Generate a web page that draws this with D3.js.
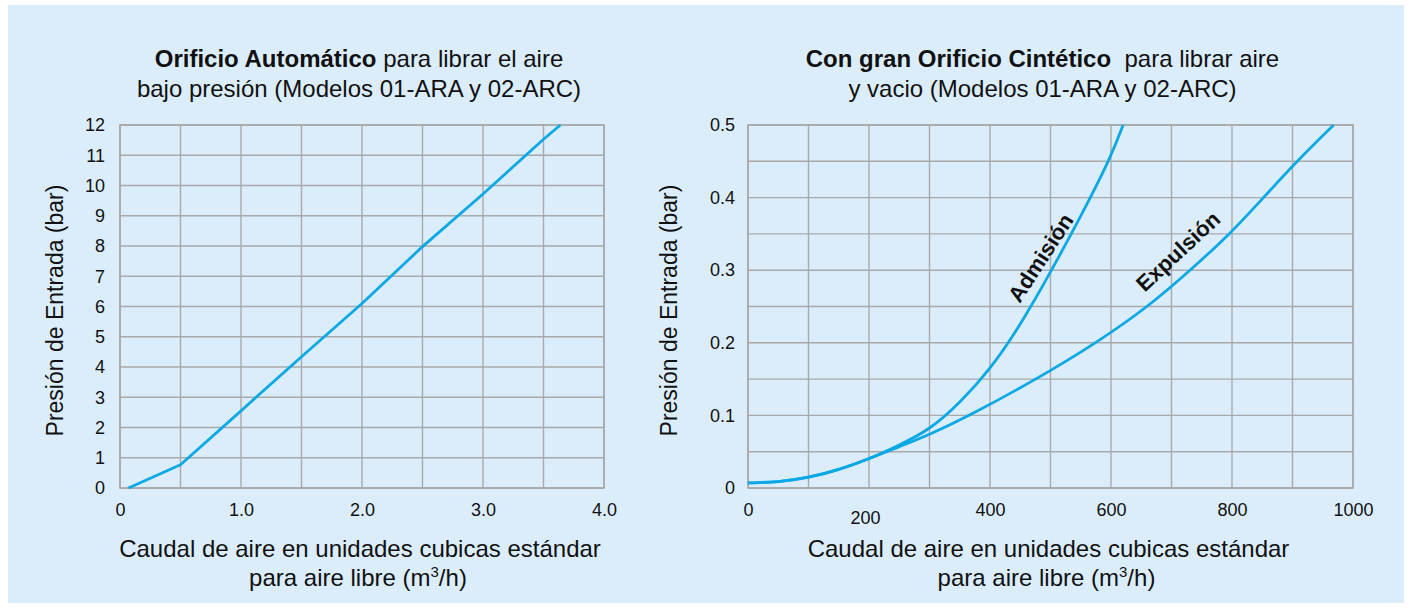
<!DOCTYPE html>
<html>
<head>
<meta charset="utf-8">
<script src="https://cdn.jsdelivr.net/npm/d3@7"></script>
<style>
html,body{margin:0;padding:0;background:#ffffff;}
svg{display:block;}
text{font-family:"Liberation Sans", Arial, Helvetica, sans-serif;fill:#111;}
</style>
</head>
<body>
<svg id="chart" width="1410" height="608"></svg>
<script>
// ---------- DATA ----------
// Left chart: Orificio Automático
const leftFlow     = [0.07, 0.5, 1.0, 1.5, 2.0, 2.5, 3.0, 3.5, 3.64];
const leftPressure = [0, 0.77, 2.55, 4.34, 6.1, 7.98, 9.72, 11.53, 12];
const leftXTicks = [0, 1, 2, 3, 4];
const leftXTickLabels = ["0", "1.0", "2.0", "3.0", "4.0"];
const leftYTicks = [0,1,2,3,4,5,6,7,8,9,10,11,12];

// Right chart: Con gran Orificio Cintético
const admisionFlow     = [0, 50, 100, 150, 200, 250, 300, 350, 400, 450, 500, 550, 600, 620];
const admisionPressure = [0.007, 0.008, 0.014, 0.025, 0.04, 0.059, 0.08, 0.117, 0.163, 0.224, 0.297, 0.374, 0.456, 0.5];
const expulsionFlow     = [0, 50, 100, 150, 200, 250, 300, 367, 477, 576, 662, 731, 797, 852, 907, 968];
const expulsionPressure = [0.007, 0.008, 0.014, 0.025, 0.04, 0.057, 0.0734, 0.1, 0.15, 0.2, 0.25, 0.3, 0.35, 0.4, 0.45, 0.5];
const rightXTicks = [0, 200, 400, 600, 800, 1000];
const rightXTickLabels = ["0", "200", "400", "600", "800", "1000"];
const rightYTicks = [0, 0.1, 0.2, 0.3, 0.4, 0.5];
const rightYTickLabels = ["0", "0.1", "0.2", "0.3", "0.4", "0.5"];

const curveLabels = ["Admisión", "Expulsión"];
const curveLabelFlow = [484, 711];
const curveLabelPressure = [0.317, 0.326];

// ---------- STYLE ----------
const BG = "#dbedfb";
const GRID = "#a9a9a9";
const LINE = "#0aa9e6";

const svg = d3.select("#chart");
svg.append("rect").attr("x", 8).attr("y", 5).attr("width", 1396).attr("height", 598).attr("fill", BG);

function drawPanel(opt) {
  const g = svg.append("g");
  const x = opt.x, y = opt.y;
  // grid
  g.append("g").selectAll("line").data(opt.xGrid).join("line")
    .attr("x1", d => x(d)).attr("x2", d => x(d))
    .attr("y1", y.range()[0]).attr("y2", y.range()[1])
    .attr("stroke", GRID).attr("stroke-width", 1.4);
  g.append("g").selectAll("line").data(opt.yGrid).join("line")
    .attr("y1", d => y(d)).attr("y2", d => y(d))
    .attr("x1", x.range()[0]).attr("x2", x.range()[1])
    .attr("stroke", GRID).attr("stroke-width", 1.4);
  g.append("rect")
    .attr("x", x.range()[0]).attr("y", y.range()[1])
    .attr("width", x.range()[1] - x.range()[0]).attr("height", y.range()[0] - y.range()[1])
    .attr("fill", "none").attr("stroke", GRID).attr("stroke-width", 1.6);

  // axes
  const ax = g.append("g").attr("transform", `translate(0,${y.range()[0]})`)
    .call(d3.axisBottom(x).tickValues(opt.xTicks).tickFormat((d, i) => opt.xTickLabels[i]).tickSize(0).tickPadding(15));
  ax.select(".domain").remove();
  ax.selectAll("text").attr("font-size", 18).attr("font-family", null).attr("fill", "#111");

  const ay = g.append("g").attr("transform", `translate(${x.range()[0]},0)`)
    .call(d3.axisLeft(y).tickValues(opt.yTicks).tickFormat((d, i) => opt.yTickLabels[i]).tickSize(0).tickPadding(opt.yPad));
  ay.select(".domain").remove();
  ay.selectAll("text").attr("font-size", 18).attr("font-family", null).attr("fill", "#111");

  // lines
  opt.series.forEach(s => {
    const pts = s.xs.map((v, i) => [v, s.ys[i]]);
    g.append("path").datum(pts)
      .attr("d", d3.line().x(d => x(d[0])).y(d => y(d[1])).curve(s.curve))
      .attr("fill", "none").attr("stroke", LINE).attr("stroke-width", 2.8)
      .attr("stroke-linejoin", "round").attr("stroke-linecap", "butt");
  });

  // title
  const cx = (x.range()[0] + x.range()[1]) / 2;
  const t1 = g.append("text").attr("x", cx + opt.titleDx).attr("y", 67).attr("text-anchor", "middle")
    .attr("font-size", 24).style("white-space", "pre");
  t1.append("tspan").attr("font-weight", "bold").text(opt.titleBold);
  t1.append("tspan").text(opt.titleRest);
  g.append("text").attr("x", cx + opt.titleDx).attr("y", 97).attr("text-anchor", "middle")
    .attr("font-size", 24).text(opt.title2);

  // y label
  const cy = (y.range()[0] + y.range()[1]) / 2;
  g.append("text").attr("transform", `translate(${opt.yLabelX},${cy + 4}) rotate(-90)`)
    .attr("text-anchor", "middle").attr("font-size", 23).text("Presión de Entrada (bar)");

  // x label
  g.append("text").attr("x", cx - 2).attr("y", 557).attr("text-anchor", "middle")
    .attr("font-size", 24).text("Caudal de aire en unidades cubicas estándar");
  const xl2 = g.append("text").attr("x", cx - 4).attr("y", 586).attr("text-anchor", "middle")
    .attr("font-size", 24);
  xl2.append("tspan").text("para aire libre (m");
  xl2.append("tspan").attr("font-size", 15).attr("dy", -9).text("3");
  xl2.append("tspan").attr("dy", 9).text("/h)");
  return {g, ax};
}

// Left
const xL = d3.scaleLinear().domain([0, 4]).range([120, 604]);
const yL = d3.scaleLinear().domain([0, 12]).range([488, 125]);
drawPanel({
  x: xL, y: yL,
  xGrid: d3.range(0, 4.01, 0.5), yGrid: leftYTicks,
  xTicks: leftXTicks, xTickLabels: leftXTickLabels,
  yTicks: leftYTicks, yTickLabels: leftYTicks.map(String), yPad: 15,
  series: [{xs: leftFlow, ys: leftPressure, curve: d3.curveLinear}],
  titleBold: "Orificio Automático", titleRest: " para librar el aire",
  title2: "bajo presión (Modelos 01-ARA y 02-ARC)", titleDx: -3,
  yLabelX: 63
});

// Right
const xR = d3.scaleLinear().domain([0, 1000]).range([748, 1353]);
const yR = d3.scaleLinear().domain([0, 0.5]).range([488, 125]);
const right = drawPanel({
  x: xR, y: yR,
  xGrid: d3.range(0, 1001, 100), yGrid: d3.range(0, 0.501, 0.05),
  xTicks: rightXTicks, xTickLabels: rightXTickLabels,
  yTicks: rightYTicks, yTickLabels: rightYTickLabels, yPad: 13,
  series: [
    {xs: admisionFlow, ys: admisionPressure, curve: d3.curveBasis},
    {xs: expulsionFlow, ys: expulsionPressure, curve: d3.curveBasis}
  ],
  titleBold: "Con gran Orificio Cintético", titleRest: "  para librar aire",
  title2: "y vacio (Modelos 01-ARA y 02-ARC)", titleDx: -8,
  yLabelX: 677
});
// the "200" label sits slightly lower/left in the original
right.ax.selectAll(".tick").filter(d => d === 200).select("text")
  .attr("transform", "translate(-4,8)");

// curve labels
const angles = [-57, -43];
curveLabels.forEach((lab, i) => {
  svg.append("text")
    .attr("transform", `translate(${xR(curveLabelFlow[i])},${yR(curveLabelPressure[i])}) rotate(${angles[i]})`)
    .attr("text-anchor", "middle").attr("dominant-baseline", "central")
    .attr("font-size", 22).attr("font-weight", "bold").text(lab);
});
</script>
</body>
</html>
